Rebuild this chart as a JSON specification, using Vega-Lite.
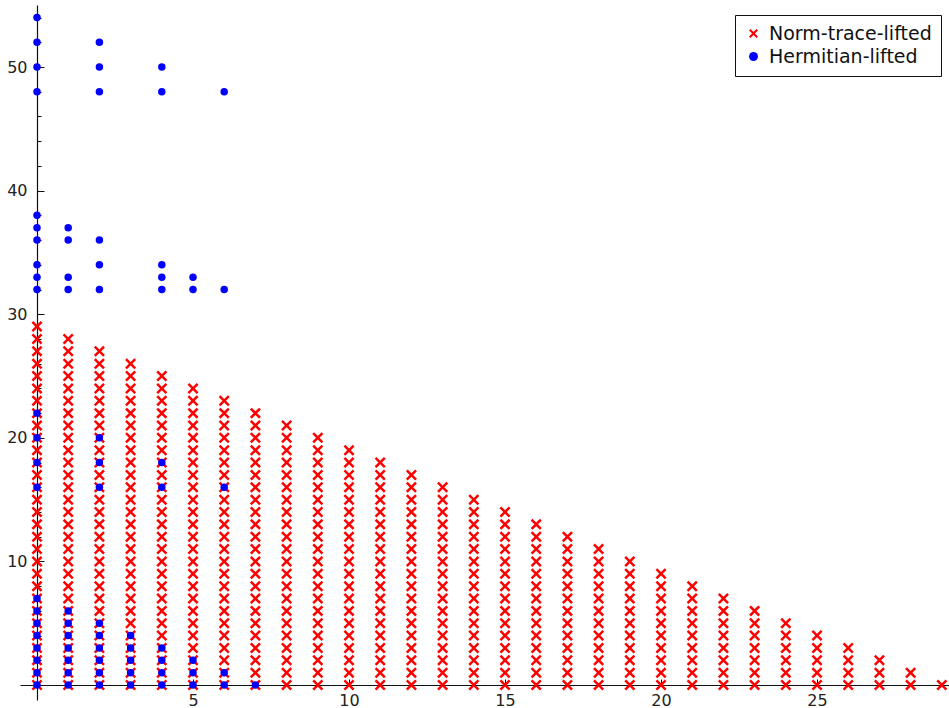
{
  "$schema": "https://vega.github.io/schema/vega-lite/v6.json",
  "width": 929,
  "height": 695,
  "autosize": {"type": "none"},
  "padding": {"left": 20, "top": 5, "right": 0, "bottom": 8},
  "background": "white",
  "config": {
    "view": {"stroke": null}
  },
  "datasets": {
    "red": [
      {"x":0,"y":0},{"x":0,"y":1},{"x":0,"y":2},{"x":0,"y":3},{"x":0,"y":4},{"x":0,"y":5},{"x":0,"y":6},{"x":0,"y":7},{"x":0,"y":8},{"x":0,"y":9},{"x":0,"y":10},{"x":0,"y":11},{"x":0,"y":12},{"x":0,"y":13},{"x":0,"y":14},{"x":0,"y":15},{"x":0,"y":16},{"x":0,"y":17},{"x":0,"y":18},{"x":0,"y":19},{"x":0,"y":20},{"x":0,"y":21},{"x":0,"y":22},{"x":0,"y":23},{"x":0,"y":24},{"x":0,"y":25},{"x":0,"y":26},{"x":0,"y":27},{"x":0,"y":28},{"x":0,"y":29},
      {"x":1,"y":0},{"x":1,"y":1},{"x":1,"y":2},{"x":1,"y":3},{"x":1,"y":4},{"x":1,"y":5},{"x":1,"y":6},{"x":1,"y":7},{"x":1,"y":8},{"x":1,"y":9},{"x":1,"y":10},{"x":1,"y":11},{"x":1,"y":12},{"x":1,"y":13},{"x":1,"y":14},{"x":1,"y":15},{"x":1,"y":16},{"x":1,"y":17},{"x":1,"y":18},{"x":1,"y":19},{"x":1,"y":20},{"x":1,"y":21},{"x":1,"y":22},{"x":1,"y":23},{"x":1,"y":24},{"x":1,"y":25},{"x":1,"y":26},{"x":1,"y":27},{"x":1,"y":28},
      {"x":2,"y":0},{"x":2,"y":1},{"x":2,"y":2},{"x":2,"y":3},{"x":2,"y":4},{"x":2,"y":5},{"x":2,"y":6},{"x":2,"y":7},{"x":2,"y":8},{"x":2,"y":9},{"x":2,"y":10},{"x":2,"y":11},{"x":2,"y":12},{"x":2,"y":13},{"x":2,"y":14},{"x":2,"y":15},{"x":2,"y":16},{"x":2,"y":17},{"x":2,"y":18},{"x":2,"y":19},{"x":2,"y":20},{"x":2,"y":21},{"x":2,"y":22},{"x":2,"y":23},{"x":2,"y":24},{"x":2,"y":25},{"x":2,"y":26},{"x":2,"y":27},
      {"x":3,"y":0},{"x":3,"y":1},{"x":3,"y":2},{"x":3,"y":3},{"x":3,"y":4},{"x":3,"y":5},{"x":3,"y":6},{"x":3,"y":7},{"x":3,"y":8},{"x":3,"y":9},{"x":3,"y":10},{"x":3,"y":11},{"x":3,"y":12},{"x":3,"y":13},{"x":3,"y":14},{"x":3,"y":15},{"x":3,"y":16},{"x":3,"y":17},{"x":3,"y":18},{"x":3,"y":19},{"x":3,"y":20},{"x":3,"y":21},{"x":3,"y":22},{"x":3,"y":23},{"x":3,"y":24},{"x":3,"y":25},{"x":3,"y":26},
      {"x":4,"y":0},{"x":4,"y":1},{"x":4,"y":2},{"x":4,"y":3},{"x":4,"y":4},{"x":4,"y":5},{"x":4,"y":6},{"x":4,"y":7},{"x":4,"y":8},{"x":4,"y":9},{"x":4,"y":10},{"x":4,"y":11},{"x":4,"y":12},{"x":4,"y":13},{"x":4,"y":14},{"x":4,"y":15},{"x":4,"y":16},{"x":4,"y":17},{"x":4,"y":18},{"x":4,"y":19},{"x":4,"y":20},{"x":4,"y":21},{"x":4,"y":22},{"x":4,"y":23},{"x":4,"y":24},{"x":4,"y":25},
      {"x":5,"y":0},{"x":5,"y":1},{"x":5,"y":2},{"x":5,"y":3},{"x":5,"y":4},{"x":5,"y":5},{"x":5,"y":6},{"x":5,"y":7},{"x":5,"y":8},{"x":5,"y":9},{"x":5,"y":10},{"x":5,"y":11},{"x":5,"y":12},{"x":5,"y":13},{"x":5,"y":14},{"x":5,"y":15},{"x":5,"y":16},{"x":5,"y":17},{"x":5,"y":18},{"x":5,"y":19},{"x":5,"y":20},{"x":5,"y":21},{"x":5,"y":22},{"x":5,"y":23},{"x":5,"y":24},
      {"x":6,"y":0},{"x":6,"y":1},{"x":6,"y":2},{"x":6,"y":3},{"x":6,"y":4},{"x":6,"y":5},{"x":6,"y":6},{"x":6,"y":7},{"x":6,"y":8},{"x":6,"y":9},{"x":6,"y":10},{"x":6,"y":11},{"x":6,"y":12},{"x":6,"y":13},{"x":6,"y":14},{"x":6,"y":15},{"x":6,"y":16},{"x":6,"y":17},{"x":6,"y":18},{"x":6,"y":19},{"x":6,"y":20},{"x":6,"y":21},{"x":6,"y":22},{"x":6,"y":23},
      {"x":7,"y":0},{"x":7,"y":1},{"x":7,"y":2},{"x":7,"y":3},{"x":7,"y":4},{"x":7,"y":5},{"x":7,"y":6},{"x":7,"y":7},{"x":7,"y":8},{"x":7,"y":9},{"x":7,"y":10},{"x":7,"y":11},{"x":7,"y":12},{"x":7,"y":13},{"x":7,"y":14},{"x":7,"y":15},{"x":7,"y":16},{"x":7,"y":17},{"x":7,"y":18},{"x":7,"y":19},{"x":7,"y":20},{"x":7,"y":21},{"x":7,"y":22},
      {"x":8,"y":0},{"x":8,"y":1},{"x":8,"y":2},{"x":8,"y":3},{"x":8,"y":4},{"x":8,"y":5},{"x":8,"y":6},{"x":8,"y":7},{"x":8,"y":8},{"x":8,"y":9},{"x":8,"y":10},{"x":8,"y":11},{"x":8,"y":12},{"x":8,"y":13},{"x":8,"y":14},{"x":8,"y":15},{"x":8,"y":16},{"x":8,"y":17},{"x":8,"y":18},{"x":8,"y":19},{"x":8,"y":20},{"x":8,"y":21},
      {"x":9,"y":0},{"x":9,"y":1},{"x":9,"y":2},{"x":9,"y":3},{"x":9,"y":4},{"x":9,"y":5},{"x":9,"y":6},{"x":9,"y":7},{"x":9,"y":8},{"x":9,"y":9},{"x":9,"y":10},{"x":9,"y":11},{"x":9,"y":12},{"x":9,"y":13},{"x":9,"y":14},{"x":9,"y":15},{"x":9,"y":16},{"x":9,"y":17},{"x":9,"y":18},{"x":9,"y":19},{"x":9,"y":20},
      {"x":10,"y":0},{"x":10,"y":1},{"x":10,"y":2},{"x":10,"y":3},{"x":10,"y":4},{"x":10,"y":5},{"x":10,"y":6},{"x":10,"y":7},{"x":10,"y":8},{"x":10,"y":9},{"x":10,"y":10},{"x":10,"y":11},{"x":10,"y":12},{"x":10,"y":13},{"x":10,"y":14},{"x":10,"y":15},{"x":10,"y":16},{"x":10,"y":17},{"x":10,"y":18},{"x":10,"y":19},
      {"x":11,"y":0},{"x":11,"y":1},{"x":11,"y":2},{"x":11,"y":3},{"x":11,"y":4},{"x":11,"y":5},{"x":11,"y":6},{"x":11,"y":7},{"x":11,"y":8},{"x":11,"y":9},{"x":11,"y":10},{"x":11,"y":11},{"x":11,"y":12},{"x":11,"y":13},{"x":11,"y":14},{"x":11,"y":15},{"x":11,"y":16},{"x":11,"y":17},{"x":11,"y":18},
      {"x":12,"y":0},{"x":12,"y":1},{"x":12,"y":2},{"x":12,"y":3},{"x":12,"y":4},{"x":12,"y":5},{"x":12,"y":6},{"x":12,"y":7},{"x":12,"y":8},{"x":12,"y":9},{"x":12,"y":10},{"x":12,"y":11},{"x":12,"y":12},{"x":12,"y":13},{"x":12,"y":14},{"x":12,"y":15},{"x":12,"y":16},{"x":12,"y":17},
      {"x":13,"y":0},{"x":13,"y":1},{"x":13,"y":2},{"x":13,"y":3},{"x":13,"y":4},{"x":13,"y":5},{"x":13,"y":6},{"x":13,"y":7},{"x":13,"y":8},{"x":13,"y":9},{"x":13,"y":10},{"x":13,"y":11},{"x":13,"y":12},{"x":13,"y":13},{"x":13,"y":14},{"x":13,"y":15},{"x":13,"y":16},
      {"x":14,"y":0},{"x":14,"y":1},{"x":14,"y":2},{"x":14,"y":3},{"x":14,"y":4},{"x":14,"y":5},{"x":14,"y":6},{"x":14,"y":7},{"x":14,"y":8},{"x":14,"y":9},{"x":14,"y":10},{"x":14,"y":11},{"x":14,"y":12},{"x":14,"y":13},{"x":14,"y":14},{"x":14,"y":15},
      {"x":15,"y":0},{"x":15,"y":1},{"x":15,"y":2},{"x":15,"y":3},{"x":15,"y":4},{"x":15,"y":5},{"x":15,"y":6},{"x":15,"y":7},{"x":15,"y":8},{"x":15,"y":9},{"x":15,"y":10},{"x":15,"y":11},{"x":15,"y":12},{"x":15,"y":13},{"x":15,"y":14},
      {"x":16,"y":0},{"x":16,"y":1},{"x":16,"y":2},{"x":16,"y":3},{"x":16,"y":4},{"x":16,"y":5},{"x":16,"y":6},{"x":16,"y":7},{"x":16,"y":8},{"x":16,"y":9},{"x":16,"y":10},{"x":16,"y":11},{"x":16,"y":12},{"x":16,"y":13},
      {"x":17,"y":0},{"x":17,"y":1},{"x":17,"y":2},{"x":17,"y":3},{"x":17,"y":4},{"x":17,"y":5},{"x":17,"y":6},{"x":17,"y":7},{"x":17,"y":8},{"x":17,"y":9},{"x":17,"y":10},{"x":17,"y":11},{"x":17,"y":12},
      {"x":18,"y":0},{"x":18,"y":1},{"x":18,"y":2},{"x":18,"y":3},{"x":18,"y":4},{"x":18,"y":5},{"x":18,"y":6},{"x":18,"y":7},{"x":18,"y":8},{"x":18,"y":9},{"x":18,"y":10},{"x":18,"y":11},
      {"x":19,"y":0},{"x":19,"y":1},{"x":19,"y":2},{"x":19,"y":3},{"x":19,"y":4},{"x":19,"y":5},{"x":19,"y":6},{"x":19,"y":7},{"x":19,"y":8},{"x":19,"y":9},{"x":19,"y":10},
      {"x":20,"y":0},{"x":20,"y":1},{"x":20,"y":2},{"x":20,"y":3},{"x":20,"y":4},{"x":20,"y":5},{"x":20,"y":6},{"x":20,"y":7},{"x":20,"y":8},{"x":20,"y":9},
      {"x":21,"y":0},{"x":21,"y":1},{"x":21,"y":2},{"x":21,"y":3},{"x":21,"y":4},{"x":21,"y":5},{"x":21,"y":6},{"x":21,"y":7},{"x":21,"y":8},
      {"x":22,"y":0},{"x":22,"y":1},{"x":22,"y":2},{"x":22,"y":3},{"x":22,"y":4},{"x":22,"y":5},{"x":22,"y":6},{"x":22,"y":7},
      {"x":23,"y":0},{"x":23,"y":1},{"x":23,"y":2},{"x":23,"y":3},{"x":23,"y":4},{"x":23,"y":5},{"x":23,"y":6},
      {"x":24,"y":0},{"x":24,"y":1},{"x":24,"y":2},{"x":24,"y":3},{"x":24,"y":4},{"x":24,"y":5},
      {"x":25,"y":0},{"x":25,"y":1},{"x":25,"y":2},{"x":25,"y":3},{"x":25,"y":4},
      {"x":26,"y":0},{"x":26,"y":1},{"x":26,"y":2},{"x":26,"y":3},
      {"x":27,"y":0},{"x":27,"y":1},{"x":27,"y":2},
      {"x":28,"y":0},{"x":28,"y":1},
      {"x":29,"y":0}
    ],
    "blue": [
      {"x":0,"y":0},{"x":0,"y":1},{"x":0,"y":2},{"x":0,"y":3},{"x":0,"y":4},{"x":0,"y":5},{"x":0,"y":6},{"x":0,"y":7},{"x":0,"y":16},{"x":0,"y":18},{"x":0,"y":20},{"x":0,"y":22},{"x":0,"y":32},{"x":0,"y":33},{"x":0,"y":34},{"x":0,"y":36},{"x":0,"y":37},{"x":0,"y":38},{"x":0,"y":48},{"x":0,"y":50},{"x":0,"y":52},{"x":0,"y":54},
      {"x":1,"y":0},{"x":1,"y":1},{"x":1,"y":2},{"x":1,"y":3},{"x":1,"y":4},{"x":1,"y":5},{"x":1,"y":6},{"x":1,"y":32},{"x":1,"y":33},{"x":1,"y":36},{"x":1,"y":37},
      {"x":2,"y":0},{"x":2,"y":1},{"x":2,"y":2},{"x":2,"y":3},{"x":2,"y":4},{"x":2,"y":5},{"x":2,"y":16},{"x":2,"y":18},{"x":2,"y":20},{"x":2,"y":32},{"x":2,"y":34},{"x":2,"y":36},{"x":2,"y":48},{"x":2,"y":50},{"x":2,"y":52},
      {"x":3,"y":0},{"x":3,"y":1},{"x":3,"y":2},{"x":3,"y":3},{"x":3,"y":4},
      {"x":4,"y":0},{"x":4,"y":1},{"x":4,"y":2},{"x":4,"y":3},{"x":4,"y":16},{"x":4,"y":18},{"x":4,"y":32},{"x":4,"y":33},{"x":4,"y":34},{"x":4,"y":48},{"x":4,"y":50},
      {"x":5,"y":0},{"x":5,"y":1},{"x":5,"y":2},{"x":5,"y":32},{"x":5,"y":33},
      {"x":6,"y":0},{"x":6,"y":1},{"x":6,"y":16},{"x":6,"y":32},{"x":6,"y":48},
      {"x":7,"y":0}
    ]
  },
  "resolve": {"axis": {"y": "independent"}},
  "layer": [
    {
      "data": {"name": "red"},
      "mark": {"type": "point", "filled": true, "opacity": 1, "size": 121},
      "encoding": {
        "x": {
          "field": "x", "type": "quantitative",
          "scale": {"domain": [-0.545, 29.23], "nice": false, "zero": false},
          "axis": {
            "values": [5, 10, 15, 20, 25], "offset": -15, "tickSize": -6, "labelPadding": 13,
            "grid": false, "title": null, "domainColor": "#111111", "domainWidth": 1.2,
            "tickColor": "#111111", "tickWidth": 1, "labelFont": "DejaVu Sans", "labelFontSize": 16,
            "labelColor": "#222222", "labelOverlap": false
          }
        },
        "y": {
          "field": "y", "type": "quantitative",
          "scale": {"domain": [-1.21, 55.02], "nice": false, "zero": false},
          "axis": {
            "orient": "left",
            "values": [10, 20, 30, 40, 50],
            "offset": -17,
            "tickSize": -7,
            "labelPadding": 17,
            "grid": false, "title": null, "domainColor": "#111111", "domainWidth": 1.2,
            "tickColor": "#111111", "tickWidth": 1, "labelFont": "DejaVu Sans", "labelFontSize": 16,
            "labelColor": "#222222", "labelOverlap": false
          }
        },
        "color": {"datum": "Norm-trace-lifted", "type": "nominal",
          "scale": {"domain": ["Norm-trace-lifted", "Hermitian-lifted"], "range": ["#ff0000", "#0000ff"]},
          "legend": {
            "orient": "none", "legendX": 715, "legendY": 10, "title": null,
            "strokeColor": "#111111", "fillColor": "white", "padding": 9, "rowPadding": 3,
            "labelFont": "DejaVu Sans", "labelFontSize": 19, "labelColor": "#111111", "labelLimit": 400,
            "symbolSize": 80, "labelOffset": 6
          }
        },
        "shape": {"datum": "Norm-trace-lifted", "type": "nominal",
          "scale": {"domain": ["Norm-trace-lifted", "Hermitian-lifted"], "range": ["M-1,-0.68L-0.68,-1L0,-0.32L0.68,-1L1,-0.68L0.32,0L1,0.68L0.68,1L0,0.32L-0.68,1L-1,0.68L-0.32,0Z", "circle"]}
        }
      }
    },
    {
      "data": {"name": "blue"},
      "mark": {"type": "point", "filled": true, "opacity": 1, "size": 56},
      "encoding": {
        "x": {"field": "x", "type": "quantitative"},
        "y": {
          "field": "y", "type": "quantitative",
          "axis": {
            "orient": "left",
            "values": [2,4,6,8,12,14,16,18,22,24,26,28,32,34,36,38,42,44,46,48,52,54],
            "labels": false, "domain": false, "offset": -17, "tickSize": -4,
            "grid": false, "title": null, "tickColor": "#111111", "tickWidth": 1
          }
        },
        "color": {"datum": "Hermitian-lifted", "type": "nominal"},
        "shape": {"datum": "Hermitian-lifted", "type": "nominal"}
      }
    }
  ]
}
